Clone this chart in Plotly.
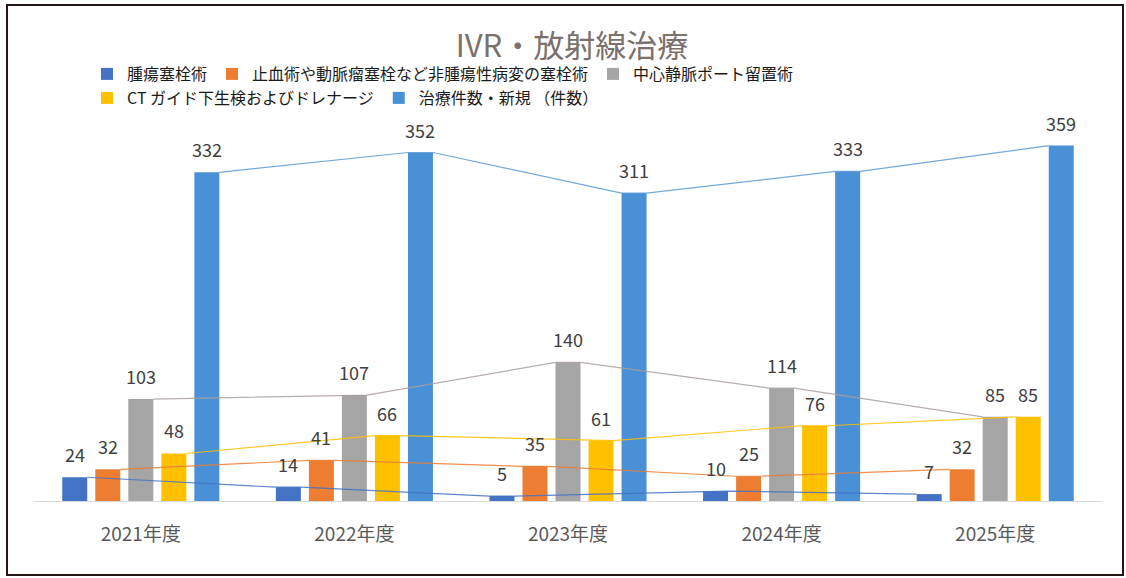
import plotly.graph_objects as go

categories = ["2021年度", "2022年度", "2023年度", "2024年度", "2025年度"]
series_names = [
    "腫瘍塞栓術",
    "止血術や動脈瘤塞栓など非腫瘍性病変の塞栓術",
    "中心静脈ポート留置術",
    "CT ガイド下生検およびドレナージ",
    "治療件数・新規 （件数）",
]
tumor_embolization = [24, 14, 5, 10, 7]
hemostasis_embolization = [32, 41, 35, 25, 32]
cv_port = [103, 107, 140, 114, 85]
ct_guided = [48, 66, 61, 76, 85]
total_new = [332, 352, 311, 333, 359]

series_values = [tumor_embolization, hemostasis_embolization, cv_port, ct_guided, total_new]
bar_colors = ["#4472C4", "#ED7D31", "#A5A5A5", "#FFC000", "#4A90D6"]
line_colors = ["#4472C4", "#ED7D31", "#aaa09c", "#FFC000", "#5B9BD5"]
legend_rows = ["legend", "legend", "legend", "legend2", "legend2"]

FONT = "Noto Sans CJK JP"
W, H = 1126, 578
ML, MR, MT, MB = 34, 24, 105, 77
step = 0.1546   # distance between bar centres (category units)
bw = 0.117      # bar width (category units)
hw = bw / 2

xs = list(range(len(categories)))
fig = go.Figure()
annotations = []

for k, (name, vals) in enumerate(zip(series_names, series_values)):
    c = (k - 2) * step
    fig.add_trace(go.Bar(
        x=xs, y=vals, name=name, legend=legend_rows[k],
        width=[bw] * len(xs), offset=[c - hw] * len(xs),
        marker=dict(color=bar_colors[k], line=dict(width=0)),
        showlegend=True,
    ))
    for i, v in enumerate(vals):
        annotations.append(dict(
            x=i + c, y=v, xref="x", yref="y", text=str(v), showarrow=False,
            yanchor="bottom", xanchor="center", yshift=8,
            font=dict(family=FONT, size=18, color="#404040"),
        ))

for k, vals in enumerate(series_values):
    c = (k - 2) * step
    lx, ly = [], []
    for i, v in enumerate(vals):
        if i > 0:
            lx.append(i + c - hw); ly.append(v)
        if i < len(vals) - 1:
            lx.append(i + c + hw); ly.append(v)
    fig.add_trace(go.Scatter(
        x=lx, y=ly, mode="lines", showlegend=False, hoverinfo="skip",
        line=dict(color=line_colors[k], width=1.2), opacity=0.85,
    ))

pw = W - ML - MR
ph = H - MT - MB
def px_x(p):
    return (p - ML) / pw
def px_y(p):
    return (H - MB - p) / ph

legend_common = dict(orientation="h", xanchor="left", yanchor="top",
                     font=dict(family=FONT, size=16, color="#1a1a1a"),
                     bgcolor="rgba(0,0,0,0)", itemwidth=30, tracegroupgap=0,
                     itemclick=False, itemdoubleclick=False)

fig.update_layout(
    width=W, height=H,
    margin=dict(l=ML, r=MR, t=MT, b=MB),
    paper_bgcolor="white", plot_bgcolor="white",
    barmode="overlay",
    font=dict(family=FONT),
    title=dict(text="IVR・放射線治療", x=572 / W, xref="container", xanchor="center",
               y=1 - 46 / H, yref="container", yanchor="middle",
               font=dict(family=FONT, size=31, color="#7a706c")),
    legend=dict(x=px_x(87), y=px_y(57), **legend_common),
    legend2=dict(x=px_x(87), y=px_y(81), **legend_common),
    xaxis=dict(range=[-0.5, len(categories) - 0.5], tickmode="array", tickvals=xs,
               ticktext=categories, showline=True, linecolor="#d9d9d9", linewidth=1,
               showgrid=False, zeroline=False, ticks="", ticklabelstandoff=16,
               tickfont=dict(family=FONT, size=19, color="#595959"), fixedrange=True),
    yaxis=dict(range=[0, 400], visible=False, showgrid=False, zeroline=False, fixedrange=True),
    annotations=annotations,
    shapes=[dict(type="rect", xref="paper", yref="paper",
                 x0=px_x(7), x1=px_x(1123), y0=px_y(575), y1=px_y(5),
                 line=dict(color="#231815", width=2), fillcolor="rgba(0,0,0,0)", layer="above")],
)

fig.write_html("out.html")
